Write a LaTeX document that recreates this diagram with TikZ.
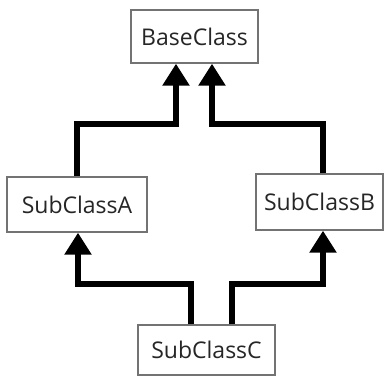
\documentclass[tikz,border=0pt]{standalone}
\usepackage{fontspec}
\setmainfont{Open Sans}
\usetikzlibrary{arrows.meta}
\begin{document}
\begin{tikzpicture}[x=1pt,y=-1pt,
  cls/.style={draw=black!55,line width=1.4pt,fill=white,inner sep=0pt,
    text=black!85,font=\fontsize{23}{27}\selectfont},
  conn/.style={line width=6pt,-{Triangle[length=22pt,width=26pt]}}]
\useasboundingbox (0,0) rectangle (386,379);
\node[cls,minimum width=127pt,minimum height=53pt] (base) at (194.5,36.5) {BaseClass};
\node[cls,minimum width=140pt,minimum height=55pt] (a) at (77,204.5) {SubClassA};
\node[cls,minimum width=127pt,minimum height=56pt] (b) at (319.5,202) {SubClassB};
\node[cls,minimum width=137pt,minimum height=50pt] (c) at (206.5,350) {SubClassC};
\coordinate (ta) at (77,124);
\coordinate (tb) at (323,124);
\coordinate (ba) at (176,124);
\coordinate (bb) at (212,124);
\coordinate (ca) at (191,284);
\coordinate (cb) at (232,284);
\coordinate (aa) at (78,284);
\coordinate (ab) at (323,284);
\draw[conn] (a.north -| ta) -- (ta) -- (ba) -- (base.south -| ba);
\draw[conn] (b.north -| tb) -- (tb) -- (bb) -- (base.south -| bb);
\draw[conn] (c.north -| ca) -- (ca) -- (aa) -- (a.south -| aa);
\draw[conn] (c.north -| cb) -- (cb) -- (ab) -- (b.south -| ab);
\end{tikzpicture}
\end{document}
